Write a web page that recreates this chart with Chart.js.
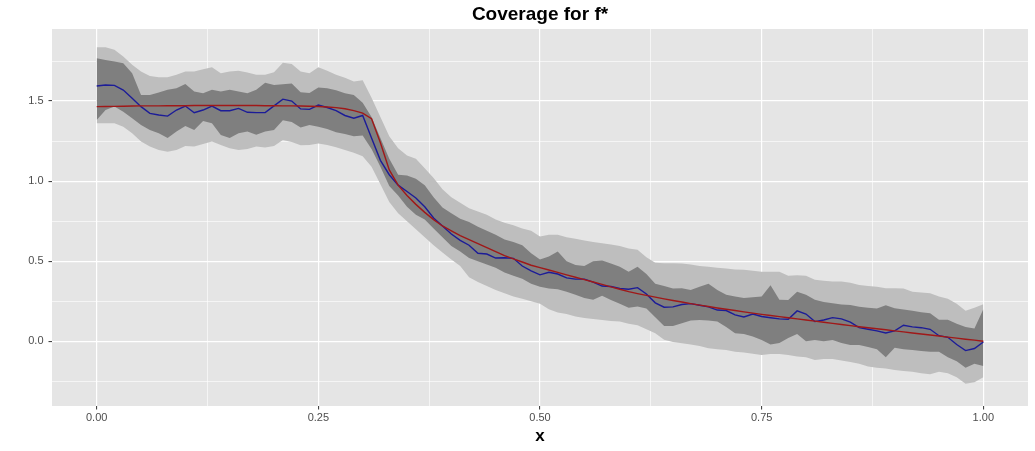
<!DOCTYPE html>
<html>
<head>
<meta charset="utf-8">
<script src="https://cdn.jsdelivr.net/npm/chart.js@4.4.0/dist/chart.umd.min.js"></script>
<style>
  html, body { margin: 0; padding: 0; background: #ffffff; }
  #wrap { width: 1035px; height: 451px; }
</style>
</head>
<body>
<div id="wrap"><canvas id="c" width="1035" height="451"></canvas></div>
<script>
// ---- data ----
const xs = [0.00,0.01,0.02,0.03,0.04,0.05,0.06,0.07,0.08,0.09,
  0.10,0.11,0.12,0.13,0.14,0.15,0.16,0.17,0.18,0.19,
  0.20,0.21,0.22,0.23,0.24,0.25,0.26,0.27,0.28,0.29,
  0.30,0.31,0.32,0.33,0.34,0.35,0.36,0.37,0.38,0.39,
  0.40,0.41,0.42,0.43,0.44,0.45,0.46,0.47,0.48,0.49,
  0.50,0.51,0.52,0.53,0.54,0.55,0.56,0.57,0.58,0.59,
  0.60,0.61,0.62,0.63,0.64,0.65,0.66,0.67,0.68,0.69,
  0.70,0.71,0.72,0.73,0.74,0.75,0.76,0.77,0.78,0.79,
  0.80,0.81,0.82,0.83,0.84,0.85,0.86,0.87,0.88,0.89,
  0.90,0.91,0.92,0.93,0.94,0.95,0.96,0.97,0.98,0.99,1.00];

// outer (light) band
const outerUpper = [1.836,1.836,1.82,1.778,1.726,1.684,1.657,1.649,1.649,1.664,
  1.684,1.684,1.699,1.711,1.674,1.684,1.69,1.678,1.664,1.664,
  1.68,1.74,1.732,1.684,1.674,1.711,1.69,1.664,1.645,1.622,
  1.63,1.52,1.40,1.28,1.205,1.16,1.14,1.08,1.02,0.95,
  0.90,0.865,0.83,0.81,0.79,0.76,0.74,0.725,0.705,0.69,
  0.655,0.665,0.665,0.65,0.64,0.63,0.62,0.612,0.605,0.595,
  0.58,0.571,0.525,0.49,0.4875,0.4875,0.486,0.48,0.47,0.465,
  0.46,0.455,0.448,0.446,0.44,0.435,0.435,0.435,0.41,0.413,
  0.41,0.385,0.378,0.373,0.373,0.365,0.352,0.345,0.34,0.331,
  0.331,0.33,0.31,0.305,0.3,0.28,0.265,0.235,0.19,0.21,0.232];
const outerLower = [1.361,1.361,1.361,1.34,1.299,1.247,1.216,1.195,1.184,1.195,
  1.22,1.216,1.232,1.247,1.226,1.205,1.195,1.2,1.216,1.21,
  1.22,1.257,1.245,1.224,1.225,1.235,1.225,1.212,1.195,1.178,
  1.155,1.09,0.98,0.87,0.80,0.75,0.70,0.65,0.60,0.555,
  0.51,0.47,0.40,0.37,0.345,0.32,0.30,0.28,0.265,0.25,
  0.235,0.2,0.18,0.17,0.155,0.145,0.14,0.133,0.127,0.123,
  0.11,0.1,0.075,0.05,0.01,-0.005,-0.012,-0.02,-0.03,-0.044,
  -0.05,-0.055,-0.065,-0.07,-0.078,-0.085,-0.08,-0.08,-0.085,-0.095,
  -0.1,-0.117,-0.11,-0.11,-0.12,-0.13,-0.14,-0.157,-0.165,-0.17,
  -0.179,-0.185,-0.19,-0.2,-0.205,-0.19,-0.2,-0.225,-0.265,-0.255,-0.225];

// inner (dark) band
const innerUpper = [1.768,1.757,1.747,1.736,1.674,1.538,1.538,1.553,1.57,1.58,
  1.607,1.559,1.549,1.57,1.559,1.57,1.559,1.549,1.57,1.615,
  1.6,1.605,1.61,1.555,1.55,1.585,1.58,1.567,1.549,1.538,
  1.49,1.40,1.27,1.14,1.04,1.035,1.015,0.975,0.90,0.835,
  0.80,0.765,0.745,0.715,0.69,0.665,0.635,0.62,0.60,0.55,
  0.51,0.53,0.56,0.50,0.477,0.47,0.5,0.505,0.485,0.465,
  0.435,0.465,0.42,0.36,0.345,0.33,0.331,0.321,0.34,0.36,
  0.32,0.29,0.28,0.27,0.275,0.279,0.35,0.26,0.258,0.31,
  0.29,0.26,0.245,0.238,0.23,0.227,0.215,0.21,0.205,0.225,
  0.206,0.198,0.19,0.182,0.175,0.135,0.135,0.11,0.09,0.08,0.2];
const innerLower = [1.382,1.445,1.466,1.434,1.393,1.351,1.32,1.299,1.27,1.31,
  1.345,1.32,1.375,1.361,1.288,1.27,1.299,1.31,1.29,1.31,
  1.32,1.38,1.37,1.335,1.35,1.34,1.325,1.305,1.295,1.28,
  1.285,1.20,1.09,0.97,0.91,0.84,0.79,0.76,0.705,0.65,
  0.595,0.56,0.52,0.50,0.48,0.46,0.43,0.41,0.39,0.36,
  0.34,0.33,0.325,0.31,0.29,0.27,0.26,0.285,0.258,0.235,
  0.21,0.217,0.205,0.15,0.095,0.096,0.112,0.13,0.133,0.13,
  0.123,0.09,0.05,0.045,0.03,0.008,-0.02,-0.01,0.02,0.045,
  0.0,0.008,0.0,0.008,-0.01,-0.023,-0.023,-0.035,-0.05,-0.1,
  -0.04,-0.05,-0.054,-0.06,-0.065,-0.065,-0.1,-0.125,-0.165,-0.14,-0.155];

// estimate (blue) and true f* (red)
const estimate = [1.594,1.60,1.598,1.569,1.517,1.465,1.423,1.413,1.406,1.444,
  1.469,1.427,1.444,1.469,1.44,1.44,1.454,1.43,1.428,1.428,
  1.47,1.512,1.50,1.451,1.448,1.475,1.46,1.44,1.41,1.393,
  1.41,1.27,1.13,1.04,0.975,0.935,0.895,0.84,0.77,0.72,
  0.67,0.63,0.60,0.55,0.545,0.52,0.522,0.518,0.47,0.44,
  0.415,0.431,0.42,0.396,0.388,0.388,0.37,0.345,0.342,0.33,
  0.325,0.335,0.295,0.24,0.213,0.215,0.23,0.235,0.225,0.215,
  0.195,0.192,0.165,0.152,0.17,0.155,0.147,0.14,0.138,0.19,
  0.17,0.123,0.133,0.148,0.14,0.12,0.085,0.075,0.065,0.052,
  0.065,0.1,0.09,0.085,0.075,0.035,0.025,-0.02,-0.058,-0.045,-0.004];
const truth = [1.465,1.466,1.467,1.468,1.469,1.47,1.47,1.47,1.471,1.471,
  1.471,1.472,1.472,1.472,1.472,1.472,1.472,1.472,1.472,1.471,
  1.471,1.47,1.47,1.469,1.468,1.466,1.463,1.459,1.452,1.44,
  1.425,1.39,1.24,1.07,0.975,0.91,0.855,0.805,0.76,0.72,
  0.69,0.66,0.635,0.61,0.585,0.56,0.535,0.515,0.495,0.475,
  0.46,0.445,0.43,0.415,0.40,0.385,0.37,0.355,0.34,0.325,
  0.31,0.298,0.287,0.276,0.265,0.255,0.245,0.235,0.226,0.217,
  0.208,0.2,0.192,0.184,0.176,0.168,0.161,0.154,0.147,0.14,
  0.133,0.126,0.119,0.112,0.105,0.098,0.091,0.085,0.078,0.072,
  0.065,0.059,0.052,0.046,0.039,0.033,0.026,0.02,0.013,0.007,0.0];

// ticks
const xTickValues = [0, 0.25, 0.5, 0.75, 1];
const xTickLabels = ['0.00', '0.25', '0.50', '0.75', '1.00'];
const xMinorTicks = [0.125, 0.375, 0.625, 0.875];
const yTickValues = [0, 0.5, 1, 1.5];
const yTickLabels = ['0.0', '0.5', '1.0', '1.5'];
const yMinorTicks = [-0.25, 0.25, 0.75, 1.25, 1.75];

const titleText = 'Coverage for f*';
const xTitle = 'x';

// ---- build chart ----
const pts = arr => arr.map((v, i) => ({ x: xs[i], y: v }));

function isMajor(list, v) { return list.some(t => Math.abs(t - v) < 1e-9); }

function tickSetter(major, minor) {
  return function (scale) {
    scale.ticks = major.concat(minor).sort((a, b) => a - b).map(v => ({ value: v }));
  };
}
function labelFn(major, labels) {
  return function (value) {
    for (let i = 0; i < major.length; i++) {
      if (Math.abs(major[i] - value) < 1e-9) return labels[i];
    }
    return '';
  };
}

const panelBg = {
  id: 'panelBg',
  beforeDraw(chart) {
    const { ctx, chartArea: a } = chart;
    ctx.save();
    ctx.fillStyle = '#ffffff';
    ctx.fillRect(0, 0, chart.width, chart.height);
    ctx.fillStyle = '#E5E5E5';
    ctx.fillRect(a.left, a.top, a.right - a.left, a.bottom - a.top);
    ctx.restore();
  }
};

Chart.defaults.font.family = "'Liberation Sans', Arial, Helvetica, sans-serif";

const bandBase = { pointRadius: 0, borderWidth: 0, tension: 0, borderColor: 'rgba(0,0,0,0)' };

new Chart(document.getElementById('c'), {
  type: 'line',
  data: {
    datasets: [
      Object.assign({ label: 'outer lower', data: pts(outerLower), fill: false, order: 6 }, bandBase),
      Object.assign({ label: 'outer upper', data: pts(outerUpper), fill: '-1', backgroundColor: '#BEBEBE', order: 5 }, bandBase),
      Object.assign({ label: 'inner lower', data: pts(innerLower), fill: false, order: 4 }, bandBase),
      Object.assign({ label: 'inner upper', data: pts(innerUpper), fill: '-1', backgroundColor: '#7F7F7F', order: 3 }, bandBase),
      { label: 'estimate', data: pts(estimate), borderColor: '#1C1C98', borderWidth: 1.4, pointRadius: 0, fill: false, tension: 0, order: 2 },
      { label: 'f*', data: pts(truth), borderColor: '#A01818', borderWidth: 1.4, pointRadius: 0, fill: false, tension: 0, order: 1 }
    ]
  },
  options: {
    responsive: false,
    animation: false,
    devicePixelRatio: 1,
    layout: { padding: { left: 0, right: 7, top: 0, bottom: 0 } },
    plugins: {
      legend: { display: false },
      tooltip: { enabled: false },
      title: {
        display: true,
        text: titleText,
        color: '#000000',
        fullSize: false,
        font: { size: 19, weight: 'bold' },
        padding: { top: 3.6, bottom: 2.6 }
      }
    },
    scales: {
      x: {
        type: 'linear',
        min: -0.0504,
        max: 1.0504,
        afterBuildTicks: tickSetter(xTickValues, xMinorTicks),
        afterFit: s => { s.height = 45; },
        border: { display: false },
        grid: {
          color: '#ffffff',
          lineWidth: c => (c.tick && isMajor(xTickValues, c.tick.value)) ? 1.2 : 0.6,
          drawTicks: true,
          tickLength: 3.5,
          tickWidth: 1,
          tickColor: c => (c.tick && isMajor(xTickValues, c.tick.value)) ? '#333333' : 'rgba(0,0,0,0)'
        },
        ticks: {
          autoSkip: false,
          maxRotation: 0,
          padding: 2,
          color: '#4D4D4D',
          font: { size: 11 },
          callback: labelFn(xTickValues, xTickLabels)
        },
        title: {
          display: true,
          text: xTitle,
          color: '#000000',
          font: { size: 17, weight: 'bold' },
          padding: { top: 0, bottom: 4.8 }
        }
      },
      y: {
        type: 'linear',
        min: -0.404,
        max: 1.95,
        afterBuildTicks: tickSetter(yTickValues, yMinorTicks),
        afterFit: s => { s.width = 52; },
        border: { display: false },
        grid: {
          color: '#ffffff',
          lineWidth: c => (c.tick && isMajor(yTickValues, c.tick.value)) ? 1.2 : 0.6,
          drawTicks: true,
          tickLength: 3.5,
          tickWidth: 1,
          tickColor: c => (c.tick && isMajor(yTickValues, c.tick.value)) ? '#333333' : 'rgba(0,0,0,0)'
        },
        ticks: {
          autoSkip: false,
          padding: 5,
          color: '#4D4D4D',
          font: { size: 11 },
          callback: labelFn(yTickValues, yTickLabels)
        }
      }
    }
  },
  plugins: [panelBg]
});
</script>
</body>
</html>
